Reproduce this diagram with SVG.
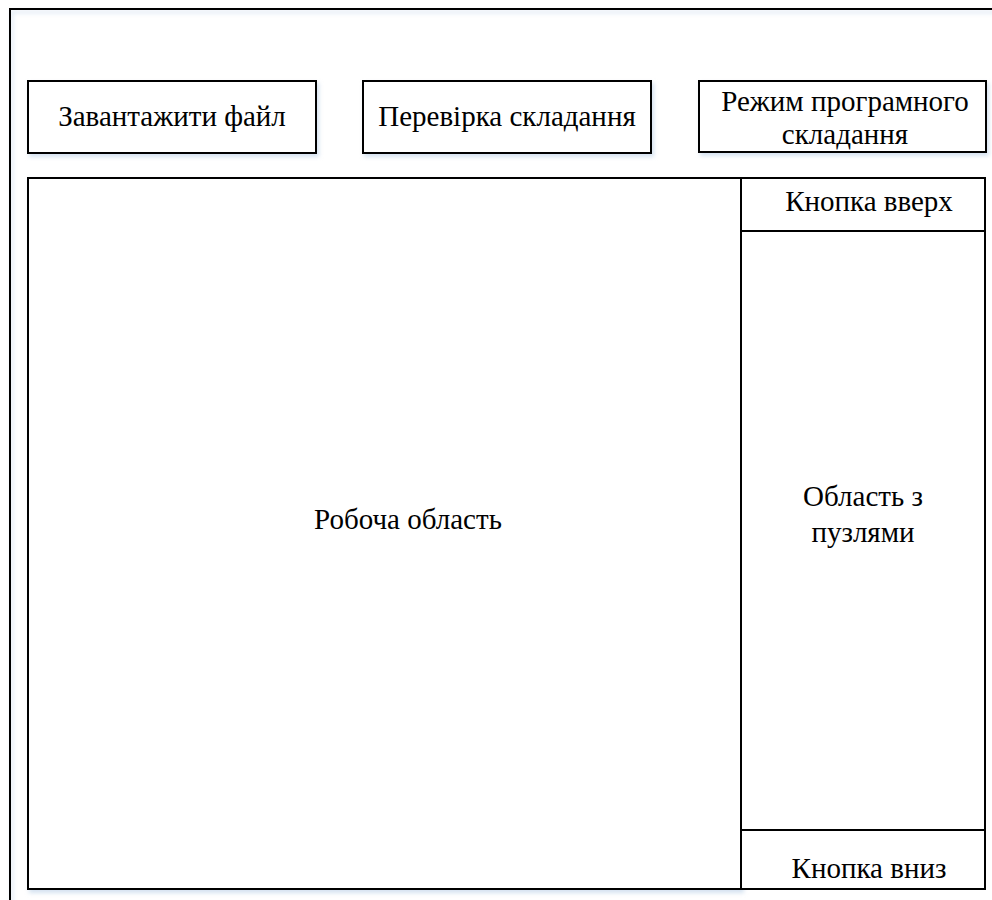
<svg xmlns="http://www.w3.org/2000/svg" width="992" height="900" viewBox="0 0 992 900">
<defs>
<filter id="sh" x="-5%" y="-5%" width="110%" height="115%">
<feDropShadow dx="2" dy="3" stdDeviation="2" flood-color="#b8cfe6" flood-opacity="0.6"/>
</filter>
</defs>
<style>
.b{fill:#fff;stroke:#000;stroke-width:2}
.l{stroke:#000;stroke-width:2;fill:none}
.t{font-family:'Liberation Serif','Times New Roman',serif;font-size:29px;fill:#000;text-anchor:middle}
</style>
<rect width="992" height="900" fill="#fff"/>
<g id="frame"><path class="l" d="M10,910 V9 H1000" filter="url(#sh)"/></g>
<g id="load"><rect class="b" x="28" y="81" width="288" height="72" filter="url(#sh)"/><text class="t" x="172" y="126">Завантажити файл</text></g>
<g id="check"><rect class="b" x="363" y="81" width="288" height="72" filter="url(#sh)"/><text class="t" x="507" y="126">Перевірка складання</text></g>
<g id="mode"><rect class="b" x="699" y="81" width="287" height="71" filter="url(#sh)"/><text class="t" x="845" y="111">Режим програмного</text><text class="t" x="845" y="144">складання</text></g>
<g id="workspace"><rect class="b" x="28" y="178" width="713" height="711" filter="url(#sh)"/><text class="t" x="408" y="529">Робоча область</text></g>
<g id="up"><rect class="b" x="741" y="178" width="244" height="53"/><text class="t" x="869" y="211">Кнопка вверх</text></g>
<g id="puzzles"><rect class="b" x="741" y="231" width="244" height="599"/><text class="t" x="863" y="506">Область з</text><text class="t" x="863" y="542">пузлями</text></g>
<g id="down"><rect class="b" x="741" y="830" width="244" height="59"/><text class="t" x="869" y="878">Кнопка вниз</text></g>
<g id="connectors"></g>
</svg>
